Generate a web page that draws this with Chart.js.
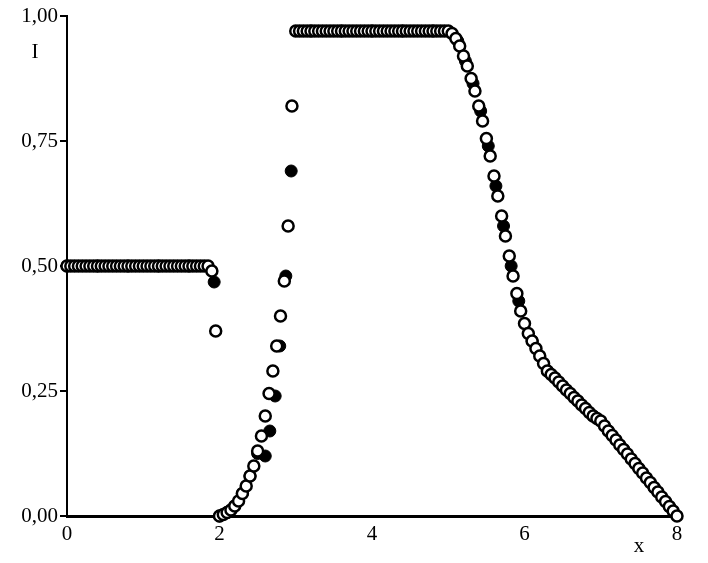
<!DOCTYPE html>
<html>
<head>
<meta charset="utf-8">
<script src="https://cdn.jsdelivr.net/npm/chart.js@4/dist/chart.umd.min.js"></script>
<style>
  html, body { margin: 0; background: #fff; }
  #wrap { width: 708px; height: 563px; }
</style>
</head>
<body>
<div id="wrap"><canvas id="plot"></canvas></div>
<script>
// open circles: fine grid, step 0.05 from x = 0
const openStep = 0.05;
const openY = [
  0.5,0.5,0.5,0.5,0.5,0.5,0.5,0.5,0.5,0.5,
  0.5,0.5,0.5,0.5,0.5,0.5,0.5,0.5,0.5,0.5,
  0.5,0.5,0.5,0.5,0.5,0.5,0.5,0.5,0.5,0.5,
  0.5,0.5,0.5,0.5,0.5,0.5,0.5,0.5,0.49,0.37,
  0.0,0.003,0.007,0.012,0.02,0.03,0.045,0.06,0.08,0.10,
  0.13,0.16,0.20,0.245,0.29,0.34,0.40,0.47,0.58,0.82,
  0.97,0.97,0.97,0.97,0.97,0.97,0.97,0.97,0.97,0.97,
  0.97,0.97,0.97,0.97,0.97,0.97,0.97,0.97,0.97,0.97,
  0.97,0.97,0.97,0.97,0.97,0.97,0.97,0.97,0.97,0.97,
  0.97,0.97,0.97,0.97,0.97,0.97,0.97,0.97,0.97,0.97,
  0.97,0.965,0.955,0.94,0.92,0.90,0.875,0.85,0.82,0.79,
  0.755,0.72,0.68,0.64,0.60,0.56,0.52,0.48,0.445,0.41,
  0.385,0.365,0.35,0.335,0.32,0.305,0.29,0.283,0.276,0.268,
  0.26,0.252,0.245,0.237,0.23,0.222,0.215,0.207,0.2,0.195,
  0.19,0.18,0.17,0.161,0.152,0.142,0.133,0.124,0.114,0.105,
  0.095,0.086,0.076,0.067,0.057,0.048,0.038,0.029,0.019,0.01,
  0.0
];

// filled circles: coarser grid
const filledX = [0, 0.4, 0.8, 1.2, 1.6, 1.93,
  2.0, 2.1, 2.2, 2.3, 2.4, 2.5, 2.6, 2.66, 2.73, 2.79, 2.87, 2.94,
  3.2, 3.6, 4.0, 4.4, 4.8,
  5.125, 5.225, 5.325, 5.425, 5.525, 5.625, 5.725, 5.825, 5.925,
  6.1, 6.3, 6.5, 6.7, 6.9, 7.1, 7.3, 7.5, 7.7, 7.9];
const filledY = [0.5, 0.5, 0.5, 0.5, 0.5, 0.468,
  0.0, 0.007, 0.02, 0.045, 0.08, 0.125, 0.12, 0.17, 0.24, 0.34, 0.48, 0.69,
  0.97, 0.97, 0.97, 0.97, 0.97,
  0.95, 0.91, 0.865, 0.81, 0.74, 0.66, 0.58, 0.50, 0.43,
  0.35, 0.29, 0.26, 0.23, 0.2, 0.17, 0.133, 0.095, 0.057, 0.019];

const xTicks = [0, 2, 4, 6, 8];
const yTicks = [0, 0.25, 0.5, 0.75, 1.0];

const openPts = openY.map((y, i) => ({ x: +(i * openStep).toFixed(2), y }));
const filledPts = filledX.map((x, i) => ({ x, y: filledY[i] }));

const font = { family: "Liberation Serif", size: 21 };

const axisNames = {
  id: "axisNames",
  afterDraw(chart) {
    const { ctx, scales } = chart;
    ctx.save();
    ctx.fillStyle = "#000";
    ctx.font = "21px 'Liberation Serif'";
    ctx.textAlign = "center";
    ctx.textBaseline = "middle";
    ctx.fillText("I", 35, 52);
    ctx.fillText("x", scales.x.getPixelForValue(7.5), 546);
    ctx.restore();
  }
};

new Chart(document.getElementById("plot"), {
  type: "scatter",
  data: {
    datasets: [
      {
        data: filledPts,
        pointRadius: 6,
        pointBackgroundColor: "#000",
        pointBorderColor: "#000",
        pointBorderWidth: 1,
        order: 2
      },
      {
        data: openPts,
        pointRadius: 5.5,
        pointBackgroundColor: "#fff",
        pointBorderColor: "#000",
        pointBorderWidth: 2.5,
        order: 1
      }
    ]
  },
  options: {
    responsive: true,
    maintainAspectRatio: false,
    animation: false,
    clip: false,
    layout: { padding: { top: 16, right: 31, left: 0, bottom: 0 } },
    plugins: { legend: { display: false }, tooltip: { enabled: false } },
    scales: {
      x: {
        type: "linear", min: 0, max: 8,
        afterBuildTicks: s => { s.ticks = xTicks.map(v => ({ value: v })); },
        afterFit: s => { s.height = 47; },
        grid: { display: true, drawOnChartArea: false, drawTicks: false },
        border: { color: "#000", width: 3 },
        ticks: { color: "#000", font, padding: 6, maxRotation: 0 }
      },
      y: {
        min: 0, max: 1,
        afterBuildTicks: s => { s.ticks = yTicks.map(v => ({ value: v })); },
        afterFit: s => { s.width = 67; },
        grid: { display: true, drawOnChartArea: false, tickLength: 7, color: "#000", lineWidth: 2 },
        border: { color: "#000", width: 2 },
        ticks: { color: "#000", font, padding: 2, callback: v => v.toFixed(2).replace(".", ",") }
      }
    }
  },
  plugins: [axisNames]
});
</script>
</body>
</html>
